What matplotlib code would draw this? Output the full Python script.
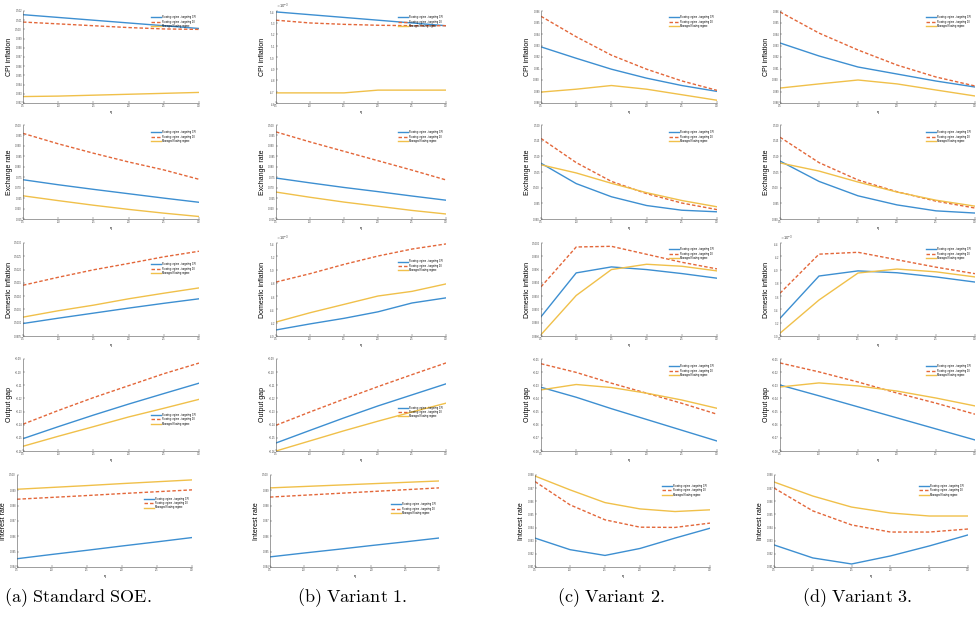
import matplotlib
matplotlib.use('Agg')
import matplotlib.pyplot as plt
import numpy as np

plt.rcParams['font.family'] = ['Liberation Sans', 'DejaVu Sans']
plt.rcParams['mathtext.fontset'] = 'cm'
plt.rcParams['axes.formatter.useoffset'] = False

# ---------------- data ----------------
eta = [0.5, 1, 1.5, 2, 2.5, 3]
series_names = ['Floating regime - targeting CPI',
                'Floating regime - targeting DI',
                'Managed floating regime']
ylabels = ['CPI inflation', 'Exchange rate', 'Domestic inflation', 'Output gap', 'Interest rate']
captions = ['(a) Standard SOE.', '(b) Variant 1.', '(c) Variant 2.', '(d) Variant 3.']

# (a) standard SOE: [float CPI, float DI, managed]
soe_cpi = [[0.1016, 0.1013, 0.1010, 0.1007, 0.1004, 0.1001],
           [0.1008, 0.1006, 0.1004, 0.1002, 0.10005, 0.1000],
           [0.0927, 0.09275, 0.09285, 0.09295, 0.09305, 0.09315]]
soe_er = [[0.0738, 0.0714, 0.0692, 0.0671, 0.0650, 0.0630],
          [0.0960, 0.0910, 0.0865, 0.0823, 0.0785, 0.0740],
          [0.0661, 0.0638, 0.0616, 0.0596, 0.0578, 0.0562]]
soe_di = [[0.09997, 0.10017, 0.10036, 0.10055, 0.10073, 0.1009],
          [0.10141, 0.10171, 0.10199, 0.10223, 0.10248, 0.10269],
          [0.10021, 0.10045, 0.10066, 0.1009, 0.10111, 0.10131]]
soe_gap = [[-0.1506, -0.1415, -0.1327, -0.1243, -0.1163, -0.1084],
           [-0.1396, -0.1292, -0.1194, -0.1103, -0.1012, -0.0931],
           [-0.1564, -0.1488, -0.1415, -0.1341, -0.1275, -0.1207]]
soe_ir = [[0.09454, 0.09482, 0.09509, 0.09537, 0.09564, 0.09592],
          [0.09842, 0.09854, 0.09866, 0.09879, 0.09891, 0.09903],
          [0.09907, 0.09919, 0.09931, 0.09944, 0.09956, 0.09968]]

# (b) variant 1
v1_cpi = [[5.392e-3, 5.368e-3, 5.344e-3, 5.32e-3, 5.296e-3, 5.272e-3],
          [5.32e-3, 5.296e-3, 5.284e-3, 5.276e-3, 5.272e-3, 5.272e-3],
          [4.688e-3, 4.688e-3, 4.688e-3, 4.712e-3, 4.712e-3, 4.712e-3]]
v1_er = [[0.0746, 0.0723, 0.0701, 0.0681, 0.0660, 0.0640],
         [0.0967, 0.0919, 0.0874, 0.0829, 0.0784, 0.0737],
         [0.0679, 0.0654, 0.0631, 0.0611, 0.0591, 0.0574]]
v1_di = [[4.091e-3, 4.182e-3, 4.266e-3, 4.364e-3, 4.497e-3, 4.574e-3],
         [4.812e-3, 4.938e-3, 5.078e-3, 5.204e-3, 5.309e-3, 5.386e-3],
         [4.21e-3, 4.35e-3, 4.476e-3, 4.602e-3, 4.672e-3, 4.784e-3]]
v1_gap = [[-0.1539, -0.1443, -0.1348, -0.1257, -0.1173, -0.1089],
          [-0.1404, -0.1303, -0.1205, -0.1110, -0.1019, -0.0930],
          [-0.1600, -0.1523, -0.1446, -0.1373, -0.1303, -0.1236]]
v1_ir = [[0.09466, 0.09491, 0.09515, 0.0954, 0.09564, 0.09589],
         [0.09856, 0.09868, 0.0988, 0.09892, 0.09904, 0.09916],
         [0.09916, 0.09925, 0.09934, 0.09943, 0.09952, 0.09961]]

# (c) variant 2
v2_cpi = [[0.09288, 0.09189, 0.09094, 0.09016, 0.08952, 0.08901],
          [0.09554, 0.09376, 0.09216, 0.09094, 0.08992, 0.0891],
          [0.08895, 0.0892, 0.08952, 0.0892, 0.08872, 0.08824]]
v2_er = [[0.1078, 0.1013, 0.0971, 0.0943, 0.0928, 0.0923],
         [0.1157, 0.1080, 0.1020, 0.0981, 0.0951, 0.0930],
         [0.1073, 0.1047, 0.1014, 0.0984, 0.0959, 0.0939]]
v2_di = [[0.09889, 0.09955, 0.09964, 0.0996, 0.09954, 0.09947],
         [0.09934, 0.09994, 0.09995, 0.09983, 0.09971, 0.09961],
         [0.09862, 0.09921, 0.0996, 0.09968, 0.09965, 0.09958]]
v2_gap = [[-0.0315, -0.0391, -0.0478, -0.0560, -0.0642, -0.0724],
          [-0.0136, -0.0202, -0.0284, -0.0360, -0.0437, -0.0520],
          [-0.0335, -0.0294, -0.0317, -0.0360, -0.0412, -0.0475]]
v2_ir = [[0.0932, 0.09232, 0.09188, 0.09241, 0.0932, 0.09395],
         [0.0975, 0.09573, 0.09459, 0.09403, 0.09401, 0.09434],
         [0.09792, 0.09687, 0.0959, 0.09542, 0.09522, 0.09535]]

# (d) variant 3
v3_cpi = [[0.09322, 0.09209, 0.09113, 0.09052, 0.08991, 0.08939],
          [0.09592, 0.09408, 0.09261, 0.0913, 0.09026, 0.08948],
          [0.0893, 0.08966, 0.09, 0.08966, 0.08913, 0.08861]]
v3_er = [[0.1085, 0.1020, 0.0974, 0.0945, 0.0926, 0.0919],
         [0.1161, 0.1080, 0.10245, 0.0987, 0.0957, 0.0935],
         [0.1079, 0.1053, 0.1018, 0.0986, 0.0960, 0.0941]]
v3_di = [[3.266e-3, 3.903e-3, 3.98e-3, 3.952e-3, 3.889e-3, 3.812e-3],
         [3.644e-3, 4.232e-3, 4.26e-3, 4.148e-3, 4.036e-3, 3.938e-3],
         [3.042e-3, 3.542e-3, 3.948e-3, 4.008e-3, 3.966e-3, 3.889e-3]]
v3_gap = [[-0.0298, -0.0380, -0.0464, -0.0548, -0.0632, -0.0716],
          [-0.0130, -0.0198, -0.0275, -0.0359, -0.0436, -0.0520],
          [-0.0313, -0.0282, -0.0305, -0.0344, -0.0397, -0.0457]]
v3_ir = [[0.09268, 0.09169, 0.09123, 0.09184, 0.0926, 0.09344],
         [0.09701, 0.09527, 0.0942, 0.09366, 0.09366, 0.09389],
         [0.09747, 0.0964, 0.09556, 0.09511, 0.09488, 0.09488]]

panels = [[soe_cpi, soe_er, soe_di, soe_gap, soe_ir],
          [v1_cpi, v1_er, v1_di, v1_gap, v1_ir],
          [v2_cpi, v2_er, v2_di, v2_gap, v2_ir],
          [v3_cpi, v3_er, v3_di, v3_gap, v3_ir]]

# y axis ranges (lo, hi, step) per column / row
ylims = [[(0.092, 0.102, 0.001), (0.055, 0.1, 0.005), (0.0995, 0.103, 0.0005), (-0.16, -0.09, 0.01), (0.094, 0.1, 0.001)],
         [(4.6e-3, 5.4e-3, 1e-4), (0.055, 0.1, 0.005), (4.0e-3, 5.4e-3, 2e-4), (-0.16, -0.09, 0.01), (0.094, 0.1, 0.001)],
         [(0.088, 0.096, 0.001), (0.09, 0.12, 0.005), (0.0986, 0.1, 0.0002), (-0.08, -0.01, 0.01), (0.091, 0.098, 0.001)],
         [(0.088, 0.096, 0.001), (0.09, 0.12, 0.005), (3.0e-3, 4.4e-3, 2e-4), (-0.08, -0.01, 0.01), (0.091, 0.098, 0.001)]]
sci_panels = [(1, 0), (1, 2), (3, 2)]

# ---------------- layout / style ----------------
W, H = 976, 618
col_px = [(23, 199), (276, 446), (541, 717), (780, 975)]
row_px = [(11, 103), (125, 219), (243, 336), (359, 451), (475, 567)]
legend_y = [[0.97, 0.96, 0.81, 0.43, 0.78],
            [0.97, 0.96, 0.84, 0.51, 0.72],
            [0.97, 0.96, 0.97, 0.96, 0.92],
            [0.97, 0.96, 0.97, 0.96, 0.92]]
caption_x = [78, 352, 611, 857]

colors = ['#3d8fd1', '#e3673a', '#f0c04a']
styles = ['-', '--', '-']

fig = plt.figure(figsize=(W / 100, H / 100), dpi=100)

for c in range(4):
    for r in range(5):
        l, rr = col_px[c]
        if r == 4:
            l, rr = l - 6, rr - 7
        t, b = row_px[r]
        ax = fig.add_axes([l / W, 1 - b / H, (rr - l) / W, (b - t) / H])

        for k in range(3):
            ax.plot(eta, panels[c][r][k], color=colors[k], linestyle=styles[k],
                    linewidth=1.0, label=series_names[k],
                    dashes=(2.5, 1.5) if k == 1 else (None, None))

        lo, hi, step = ylims[c][r]
        ax.set_ylim(lo, hi)
        ax.set_yticks(np.arange(lo, hi + step / 2, step))
        ax.set_xlim(0.5, 3)
        ax.set_xticks(eta)
        if (c, r) in sci_panels:
            ax.ticklabel_format(axis='y', style='sci', scilimits=(0, 0), useMathText=True)
            off = ax.yaxis.get_offset_text()
            off.set_fontsize(3)
            off.set_verticalalignment('center')

        for s in ['top', 'right']:
            ax.spines[s].set_visible(False)
        for s in ['left', 'bottom']:
            ax.spines[s].set_linewidth(0.4)
            ax.spines[s].set_color('#555555')
        ax.tick_params(labelsize=1.8, length=1.2, width=0.3, direction='in',
                       pad=0.8, colors='#444444')

        ax.set_ylabel(ylabels[r], fontsize=5)
        ax.yaxis.set_label_coords(-10 / (rr - l), 0.5)
        ax.set_xlabel('η', fontsize=3, labelpad=1.5)

        ax.legend(fontsize=1.8, frameon=False, loc='upper right',
                  bbox_to_anchor=(0.99, legend_y[c][r]), handlelength=4,
                  labelspacing=0.15, borderpad=0.1, handletextpad=0.4)

for i, cap in enumerate(captions):
    fig.text(caption_x[i] / W, 1 - 598 / H, r'$\mathrm{' + cap.replace(' ', r'\ ') + '}$',
             ha='center', va='center', fontsize=13)

fig.savefig('out.png', dpi=100)
